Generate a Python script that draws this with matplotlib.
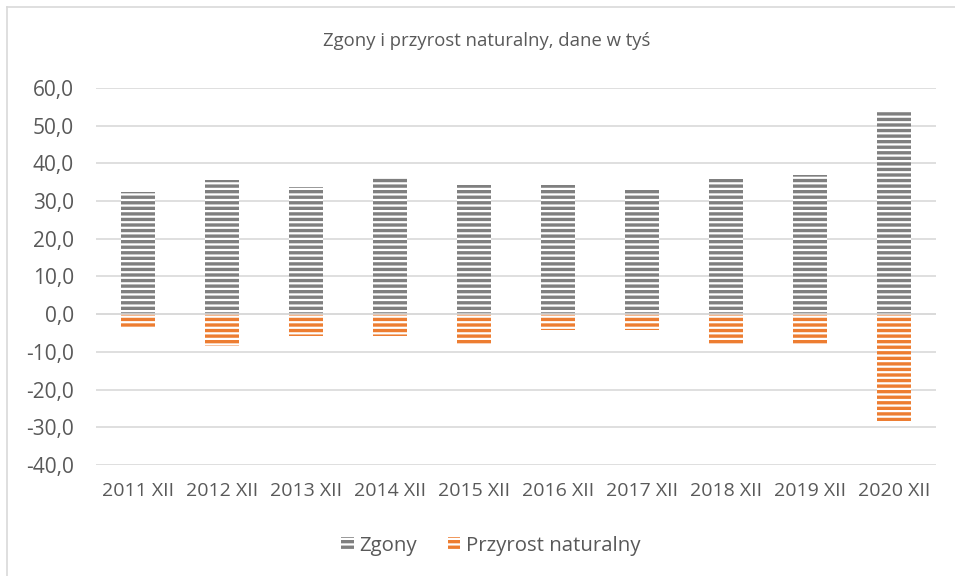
import matplotlib
matplotlib.use("Agg")
import matplotlib.pyplot as plt
from matplotlib.patches import Patch
from matplotlib.lines import Line2D

labels = ["2011 XII", "2012 XII", "2013 XII", "2014 XII", "2015 XII",
          "2016 XII", "2017 XII", "2018 XII", "2019 XII", "2020 XII"]
zgony = [32.4, 35.5, 33.8, 36.2, 34.3, 34.3, 33.0, 35.8, 36.8, 54.0]
przyrost = [-3.3, -8.5, -5.9, -5.9, -8.3, -4.1, -4.1, -8.3, -8.3, -28.3]
yticks = [-40, -30, -20, -10, 0, 10, 20, 30, 40, 50, 60]

gray = "#7f7f7f"
orange = "#ed7d31"
txt = "#595959"

plt.rcParams["font.family"] = ["Open Sans", "DejaVu Sans"]
plt.rcParams["hatch.linewidth"] = 2.4

fig = plt.figure(figsize=(9.55, 5.76), dpi=100)
ax = fig.add_axes([96 / 955, 1 - 465 / 576, 840 / 955, 377 / 576])

x = range(len(labels))
ax.bar(x, zgony, width=0.4, facecolor="white", edgecolor=gray, hatch="---",
       linewidth=0, zorder=2)
ax.bar(x, przyrost, width=0.4, facecolor="white", edgecolor=orange, hatch="---",
       linewidth=0, zorder=2)

ax.set_xlim(-0.5, len(labels) - 0.5)
ax.set_ylim(-40, 60)
ax.set_yticks(yticks)
ax.set_yticklabels([f"{v:.1f}".replace(".", ",") for v in yticks])
ax.set_xticks(list(x))
ax.set_xticklabels(labels)
ax.tick_params(axis="y", length=0, pad=16, labelsize=15, labelcolor=txt)
ax.tick_params(axis="x", length=0, pad=12, labelsize=14, labelcolor=txt)
ax.grid(axis="y", color="#d9d9d9", linewidth=1.2, zorder=1)
ax.axhline(0, color="#d9d9d9", linewidth=1.2, zorder=3)
for s in ax.spines.values():
    s.set_visible(False)

fig.text(487 / 955, 1 - 41 / 576, "Zgony i przyrost naturalny, dane w tyś",
         ha="center", va="center", fontsize=13.3, color=txt)

# ramka wykresu (lewa i górna krawędź)
fig.add_artist(Line2D([7 / 955, 7 / 955], [0, 1 - 7 / 576], transform=fig.transFigure,
                      color="#d9d9d9", linewidth=1.2))
fig.add_artist(Line2D([7 / 955, 1], [1 - 7 / 576, 1 - 7 / 576], transform=fig.transFigure,
                      color="#d9d9d9", linewidth=1.2))

handles = [Patch(facecolor="white", edgecolor=gray, hatch="---", linewidth=0, label="Zgony"),
           Patch(facecolor="white", edgecolor=orange, hatch="---", linewidth=0,
                 label="Przyrost naturalny")]
leg = fig.legend(handles=handles, loc="center", bbox_to_anchor=(491 / 955, 1 - 546 / 576),
                 ncol=2, frameon=False, fontsize=14.7, handlelength=0.6, handleheight=0.6,
                 handletextpad=0.3, columnspacing=1.5)
for t in leg.get_texts():
    t.set_color(txt)

fig.savefig("out.png", dpi=100)
